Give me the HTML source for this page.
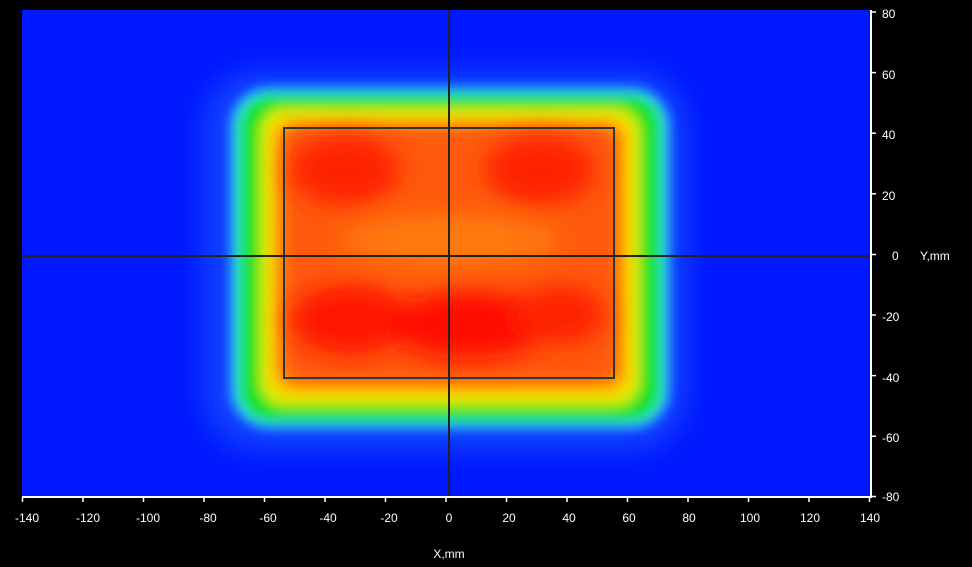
<!DOCTYPE html><html><head><style>body{margin:0;background:#000;width:972px;height:567px;overflow:hidden;font-family:"Liberation Sans",sans-serif}</style></head><body>
<svg width="972" height="567" xmlns="http://www.w3.org/2000/svg" style="position:absolute;left:0;top:0">
<defs>
<filter id="b1" x="-20%" y="-20%" width="140%" height="140%"><feGaussianBlur stdDeviation="6"/></filter>
<filter id="b2" x="-20%" y="-20%" width="140%" height="140%"><feGaussianBlur stdDeviation="12"/></filter>
<clipPath id="c"><rect x="22" y="10" width="848" height="487"/></clipPath>
</defs>
<g clip-path="url(#c)">
<rect x="22" y="10" width="848" height="487" fill="#0018ff"/>
<rect x="200" y="68" width="490" height="385" rx="60" fill="#1a60ff" filter="url(#b2)" opacity="0.5"/>
<g filter="url(#b1)">
<rect x="231" y="88" width="438" height="340" rx="38" fill="#30d8ff"/>
<rect x="237" y="93" width="426" height="330" rx="33" fill="#30f0a0"/>
<rect x="241" y="96" width="418" height="324" rx="30" fill="#10e020"/>
<rect x="260" y="108" width="380" height="298" rx="24" fill="#d8f000"/>
<rect x="268" y="115" width="364" height="282" rx="22" fill="#ffc800"/>
<rect x="277" y="122" width="346" height="266" rx="20" fill="#ff7a00"/>
<rect x="286" y="130" width="330" height="250" rx="18" fill="#ff5a08"/>
</g>
<g filter="url(#b2)">
<ellipse cx="345" cy="170" rx="55" ry="35" fill="#ff2000"/>
<ellipse cx="540" cy="170" rx="55" ry="35" fill="#ff2000"/>
<ellipse cx="350" cy="320" rx="60" ry="35" fill="#ff1800"/>
<ellipse cx="470" cy="325" rx="80" ry="35" fill="#ff1000"/>
<ellipse cx="560" cy="315" rx="45" ry="30" fill="#ff2000"/>
<ellipse cx="450" cy="240" rx="110" ry="25" fill="#ff7a10"/>
</g>
<rect x="284" y="128" width="330" height="250" fill="none" stroke="#333" stroke-width="2"/>
<line x1="22" y1="256" x2="870" y2="256" stroke="#222" stroke-width="2"/>
<line x1="449" y1="10" x2="449" y2="497" stroke="#222" stroke-width="2"/>
</g>
<g stroke="#fff" stroke-width="2">
<line x1="22" y1="497" x2="872" y2="497"/>
<line x1="871" y1="10" x2="871" y2="497"/>
</g>
<g stroke="#fff" stroke-width="1.5">
<line x1="22.5" y1="497" x2="22.5" y2="502"/><line x1="83" y1="497" x2="83" y2="502"/><line x1="143.5" y1="497" x2="143.5" y2="502"/><line x1="204" y1="497" x2="204" y2="502"/><line x1="264.5" y1="497" x2="264.5" y2="502"/><line x1="325" y1="497" x2="325" y2="502"/><line x1="385.5" y1="497" x2="385.5" y2="502"/><line x1="446" y1="497" x2="446" y2="502"/><line x1="506.5" y1="497" x2="506.5" y2="502"/><line x1="567" y1="497" x2="567" y2="502"/><line x1="627.5" y1="497" x2="627.5" y2="502"/><line x1="688" y1="497" x2="688" y2="502"/><line x1="748.5" y1="497" x2="748.5" y2="502"/><line x1="809" y1="497" x2="809" y2="502"/><line x1="869.5" y1="497" x2="869.5" y2="502"/>
<line x1="871" y1="12" x2="876" y2="12"/><line x1="871" y1="72.6" x2="876" y2="72.6"/><line x1="871" y1="133.2" x2="876" y2="133.2"/><line x1="871" y1="193.8" x2="876" y2="193.8"/><line x1="871" y1="254.5" x2="876" y2="254.5"/><line x1="871" y1="315" x2="876" y2="315"/><line x1="871" y1="375.6" x2="876" y2="375.6"/><line x1="871" y1="436.2" x2="876" y2="436.2"/><line x1="871" y1="496.5" x2="876" y2="496.5"/>
</g>
<g fill="#fff" font-size="12" text-anchor="middle" font-family="Liberation Sans,sans-serif">
<text x="27" y="522">-140</text><text x="88" y="522">-120</text><text x="148" y="522">-100</text><text x="208" y="522">-80</text><text x="268" y="522">-60</text><text x="328" y="522">-40</text><text x="389" y="522">-20</text><text x="449" y="522">0</text><text x="509" y="522">20</text><text x="569" y="522">40</text><text x="629" y="522">60</text><text x="689" y="522">80</text><text x="750" y="522">100</text><text x="810" y="522">120</text><text x="870" y="522">140</text>
<text x="449" y="558">X,mm</text>
</g>
<g fill="#fff" font-size="12" text-anchor="start" font-family="Liberation Sans,sans-serif">
<text x="882" y="18">80</text><text x="882" y="79">60</text><text x="882" y="139">40</text><text x="882" y="200">20</text><text x="892" y="260">0</text><text x="920" y="260">Y,mm</text><text x="882" y="321">-20</text><text x="882" y="382">-40</text><text x="882" y="442">-60</text><text x="882" y="501">-80</text>
</g>
</svg></body></html>
